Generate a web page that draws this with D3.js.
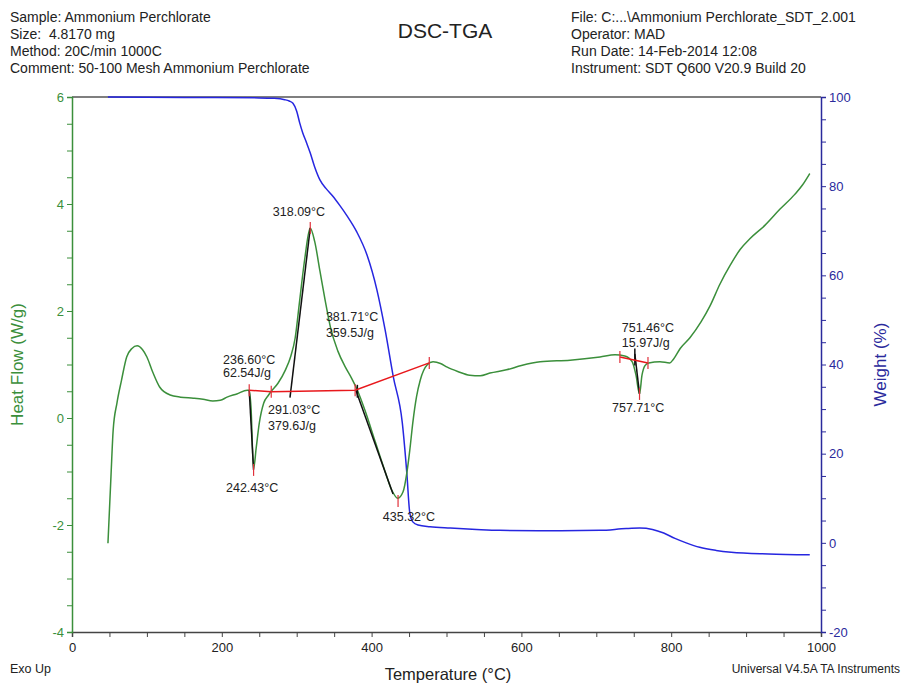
<!DOCTYPE html>
<html>
<head>
<meta charset="utf-8">
<script src="https://cdn.jsdelivr.net/npm/d3@7"></script>
<style>
body { margin: 0; background: #fff; }
text { font-family: "Liberation Sans", Arial, sans-serif; }
</style>
</head>
<body>
<div id="chart"></div>
<script>
/******************************data***************************************/
// heat flow (W/g) vs temperature (°C)
var hfTemp = [48,52,55,60,66,73,80,87,94,100,108,117,131,145,162,175,188,198,207,220,234,236.6,239,242.4,246,250,256,262,266,275,285,292,298,304,311,318,324,331,338,345,355,365,373,381,391,405,418,427,435,442,447,451,455,460,465,474,482,492,501,515,531,545,558,580,600,625,665,705,725,738,748,753,757.7,761,765,770,785,798,803,812,825,840,852,865,879,892,905,925,945,965,975,985];
var hfValue = [-2.34,-1.1,-0.22,0.28,0.7,1.14,1.3,1.35,1.28,1.14,0.85,0.58,0.43,0.39,0.37,0.35,0.32,0.33,0.39,0.45,0.52,0.52,0.2,-0.95,-0.55,-0.1,0.28,0.42,0.5,0.65,0.9,1.15,1.5,2.2,3.0,3.55,3.3,2.75,2.2,1.7,1.25,0.95,0.75,0.52,0.15,-0.45,-1.0,-1.35,-1.5,-1.38,-1.03,-0.6,-0.09,0.4,0.71,0.99,1.05,1.02,0.95,0.87,0.8,0.79,0.84,0.9,0.98,1.05,1.08,1.14,1.18,1.16,1.05,0.8,0.45,0.8,0.98,1.03,1.05,1.03,1.1,1.3,1.5,1.8,2.1,2.5,2.86,3.15,3.35,3.6,3.9,4.18,4.35,4.57];

// weight (%) vs temperature (°C)
var wTemp = [48,150,250,270,284,290,295,300,304,308,313,318,324,331,339,348,357,367,380,394,407,418,429,441,447,451,455,462,478,505,540,571,638,705,740,758,775,790,805,820,838,860,880,930,985];
var wValue = [100,99.9,99.8,99.7,99.4,99.1,98.6,96.8,94.2,92,89.8,87.5,84.3,81.4,79.5,77.8,75.8,73.4,69.8,64.5,56.8,47.8,37.2,26.9,15.7,6.7,4.7,4.0,3.6,3.3,3.0,2.8,2.7,2.8,3.2,3.3,3.0,2.2,1.0,0.0,-1.0,-1.7,-2.1,-2.5,-2.7];

// integration baselines (red) [temp, heat flow]
var baseline1 = [[236.6,0.52],[266,0.49],[378,0.52],[477,1.03]];
var baseline2 = [[731.5,1.14],[769,1.03]];
// construction lines (black)
var blackLines = [
	[[236.6,0.52],[242.43,-0.97]],
	[[291.03,0.38],[318.09,3.55]],
	[[379,0.52],[428.6,-1.42]],
	[[751.46,1.2],[757.71,0.45]],
	[[751.46,1.3],[751.46,0.98]],
	[[381,0.62],[381,0.38]]
];
// markers (red ticks)
var markers = [[236.6,0.52],[266,0.49],[378,0.52],[477,1.03],[318.09,3.55],[242.43,-0.97],[435.32,-1.55],[731.5,1.14],[769,1.03],[757.71,0.45]];

// annotation labels [temp, heat flow, text, anchor]
var labels = [
	[303,3.85,"318.09°C","middle"],
	[201.6,1.10,"236.60°C","start"],
	[201.6,0.84,"62.54J/g","start"],
	[261.7,0.15,"291.03°C","start"],
	[261.7,-0.15,"379.6J/g","start"],
	[339,1.89,"381.71°C","start"],
	[339,1.59,"359.5J/g","start"],
	[205.6,-1.31,"242.43°C","start"],
	[415,-1.85,"435.32°C","start"],
	[734,1.68,"751.46°C","start"],
	[734,1.40,"15.97J/g","start"],
	[721,0.19,"757.71°C","start"]
];

var headerLeft = ["Sample: Ammonium Perchlorate","Size:\u00a0 4.8170 mg","Method: 20C/min 1000C","Comment: 50-100 Mesh Ammonium Perchlorate"];
var headerRight = ["File: C:...\\Ammonium Perchlorate_SDT_2.001","Operator: MAD","Run Date: 14-Feb-2014 12:08","Instrument: SDT Q600 V20.9 Build 20"];

var xTicks = [0,200,400,600,800,1000];
var hfTicks = [-4,-2,0,2,4,6];
var wTicks = [-20,0,20,40,60,80,100];

/******************************draw chart***************************************/
var width = 903,
	height = 683,
	margin = {top: 97, right: 82, bottom: 51, left: 72};

var green = "#3b8f3b", blue = "#2626e0", axisBlue = "#2a2a9c", dark = "#222";

var svg = d3.select("#chart").append("svg")
	.attr("width", width)
	.attr("height", height)
	.style("background-color", "white");

var x = d3.scaleLinear().domain([0, 1000]).range([margin.left, width - margin.right]);
var yHF = d3.scaleLinear().domain([-4, 6]).range([height - margin.bottom, margin.top]);
var yW = d3.scaleLinear().domain([-20, 100]).range([height - margin.bottom, margin.top]);

// header
svg.selectAll(".hl").data(headerLeft).enter().append("text")
	.attr("x", 10).attr("y", function(d, i){ return 22 + i * 17; })
	.style("font-size", "14px").style("fill", dark)
	.text(function(d){ return d; });
svg.selectAll(".hr").data(headerRight).enter().append("text")
	.attr("x", 571).attr("y", function(d, i){ return 22 + i * 17; })
	.style("font-size", "14px").style("fill", dark)
	.text(function(d){ return d; });
svg.append("text").attr("x", 445).attr("y", 38)
	.attr("text-anchor", "middle").style("font-size", "21px").style("fill", dark)
	.text("DSC-TGA");

// top frame
svg.append("line")
	.attr("x1", x(0)).attr("x2", x(1000)).attr("y1", margin.top).attr("y2", margin.top)
	.style("stroke", "#555").style("stroke-width", 1.5);

// bottom axis
var xAxis = svg.append("g").attr("transform", "translate(0," + (height - margin.bottom) + ")")
	.call(d3.axisBottom(x).tickValues(d3.range(0, 1001, 50)).tickSize(5)
		.tickFormat(function(d){ return xTicks.indexOf(d) >= 0 ? d : ""; }));
xAxis.select(".domain").style("stroke", "#444").style("stroke-width", 1.5);
xAxis.selectAll(".tick line").style("stroke", "#444");
xAxis.selectAll(".tick text").style("font-size", "13px").style("fill", dark).attr("dy", "0.9em");

// left axis
var hfAxis = svg.append("g").attr("transform", "translate(" + margin.left + ",0)")
	.call(d3.axisLeft(yHF).tickValues(d3.range(-4, 6.01, 0.5)).tickSizeOuter(0)
		.tickSize(5).tickFormat(function(d){ return hfTicks.indexOf(d) >= 0 ? d : ""; }));
hfAxis.select(".domain").style("stroke", green).style("stroke-width", 1.5);
hfAxis.selectAll(".tick line").style("stroke", green);
hfAxis.selectAll(".tick text").style("font-size", "13px").style("fill", green);

// right axis
var wAxis = svg.append("g").attr("transform", "translate(" + (width - margin.right) + ",0)")
	.call(d3.axisRight(yW).tickValues(d3.range(-20, 101, 5)).tickSizeOuter(0)
		.tickSize(5).tickFormat(function(d){ return wTicks.indexOf(d) >= 0 ? d : ""; }));
wAxis.select(".domain").style("stroke", axisBlue).style("stroke-width", 1.5);
wAxis.selectAll(".tick line").style("stroke", axisBlue);
wAxis.selectAll(".tick text").style("font-size", "13px").style("fill", axisBlue);

// axis titles
svg.append("text").attr("transform", "translate(23," + yHF(1) + ") rotate(-90)")
	.attr("text-anchor", "middle").style("font-size", "17px").style("fill", green)
	.text("Heat Flow (W/g)");
svg.append("text").attr("transform", "translate(886," + yHF(1) + ") rotate(-90)")
	.attr("text-anchor", "middle").style("font-size", "17px").style("fill", axisBlue)
	.text("Weight (%)");
svg.append("text").attr("x", 448).attr("y", 680)
	.attr("text-anchor", "middle").style("font-size", "16.5px").style("fill", dark)
	.text("Temperature (°C)");
svg.append("text").attr("x", 10).attr("y", 673)
	.style("font-size", "12.5px").style("fill", dark).text("Exo Up");
svg.append("text").attr("x", 900).attr("y", 673).attr("text-anchor", "end")
	.style("font-size", "12px").style("fill", dark).text("Universal V4.5A TA Instruments");

// curves
var hfData = hfTemp.map(function(t, i){ return [t, hfValue[i]]; });
var wData = wTemp.map(function(t, i){ return [t, wValue[i]]; });

var hfLine = d3.line().x(function(d){ return x(d[0]); }).y(function(d){ return yHF(d[1]); })
	.curve(d3.curveMonotoneX);
var wLine = d3.line().x(function(d){ return x(d[0]); }).y(function(d){ return yW(d[1]); })
	.curve(d3.curveMonotoneX);
var straight = d3.line().x(function(d){ return x(d[0]); }).y(function(d){ return yHF(d[1]); });

svg.append("path").datum(wData).attr("d", wLine)
	.style("fill", "none").style("stroke", blue).style("stroke-width", 1.5);
svg.append("path").datum(hfData).attr("d", hfLine)
	.style("fill", "none").style("stroke", green).style("stroke-width", 1.5);

// integration marks
svg.selectAll(".black").data(blackLines).enter().append("path")
	.attr("d", straight).style("fill", "none").style("stroke", "#111").style("stroke-width", 1.5);
svg.selectAll(".base").data([baseline1, baseline2]).enter().append("path")
	.attr("d", straight).style("fill", "none").style("stroke", "#e8181c").style("stroke-width", 1.5);
svg.selectAll(".mark").data(markers).enter().append("line")
	.attr("x1", function(d){ return x(d[0]); }).attr("x2", function(d){ return x(d[0]); })
	.attr("y1", function(d){ return yHF(d[1]) - 6; }).attr("y2", function(d){ return yHF(d[1]) + 6; })
	.style("stroke", "#e0303a").style("stroke-width", 1.2);

svg.selectAll(".lbl").data(labels).enter().append("text")
	.attr("x", function(d){ return x(d[0]); })
	.attr("y", function(d){ return yHF(d[1]); })
	.attr("dy", "0.35em")
	.attr("text-anchor", function(d){ return d[3]; })
	.style("font-size", "12.5px").style("fill", dark)
	.text(function(d){ return d[2]; });
</script>
</body>
</html>
